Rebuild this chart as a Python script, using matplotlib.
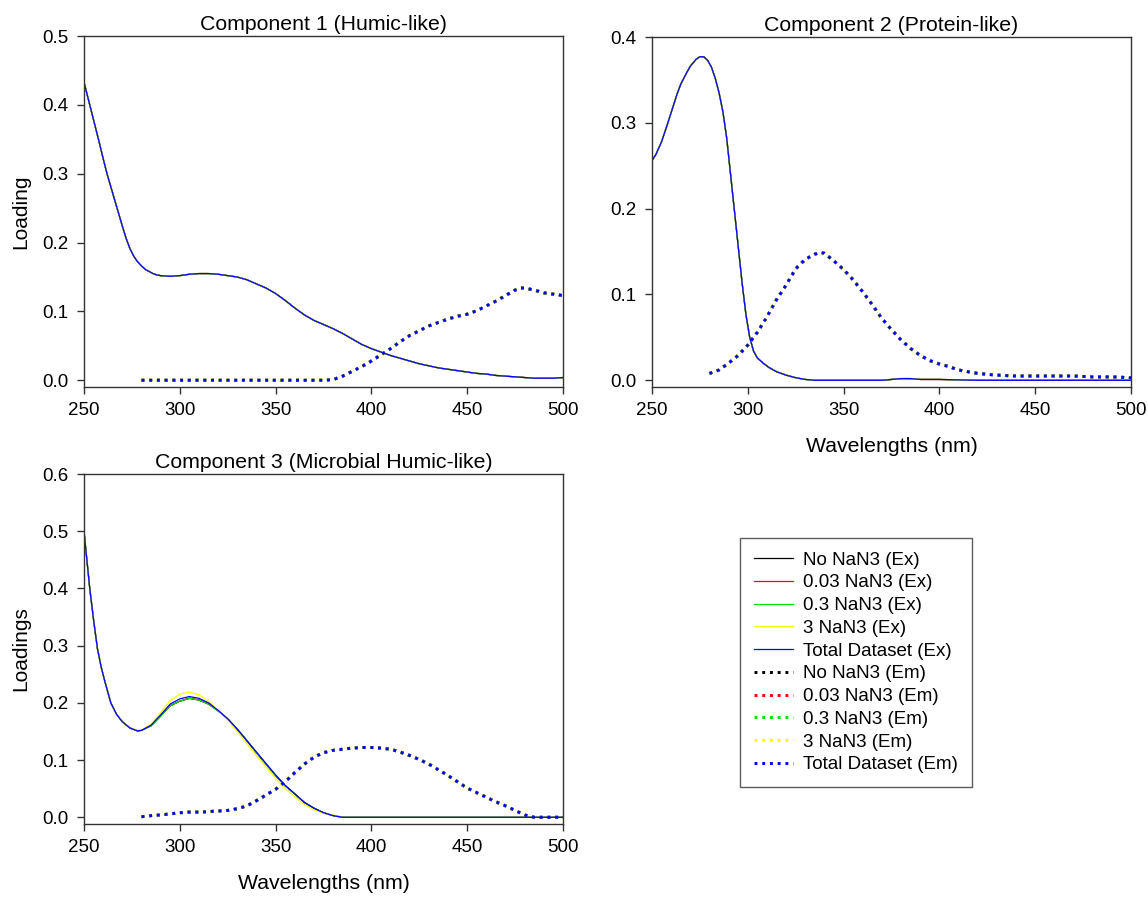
import numpy as np
import matplotlib.pyplot as plt
from matplotlib.lines import Line2D

plt.rcParams['font.family'] = ['Liberation Sans', 'DejaVu Sans']

# series names / colours
series = ['No NaN3', '0.03 NaN3', '0.3 NaN3', '3 NaN3', 'Total Dataset']
colors = ['#000000', '#ff0000', '#00e000', '#ffff00', '#0000ff']

# Component 1 (Humic-like)
c1_ex_wl = [250, 253, 256, 258, 260, 262, 264, 266, 268, 270, 272, 274, 276, 278, 280,
            282, 284, 286, 288, 290, 295, 300, 305, 310, 315, 320, 325, 330, 335, 340,
            345, 350, 355, 360, 365, 370, 375, 380, 385, 390, 395, 400, 405, 410, 415,
            420, 425, 430, 435, 440, 445, 450, 455, 460, 465, 470, 475, 480, 485, 490,
            495, 500]
c1_ex = [0.433, 0.400, 0.367, 0.345, 0.322, 0.300, 0.281, 0.262, 0.243, 0.224, 0.206,
         0.191, 0.180, 0.172, 0.166, 0.161, 0.158, 0.155, 0.153, 0.152, 0.151, 0.152,
         0.154, 0.155, 0.155, 0.154, 0.152, 0.150, 0.146, 0.140, 0.134, 0.126, 0.116,
         0.105, 0.095, 0.087, 0.081, 0.075, 0.068, 0.060, 0.052, 0.046, 0.041, 0.036,
         0.032, 0.028, 0.024, 0.021, 0.018, 0.016, 0.014, 0.012, 0.010, 0.009, 0.007,
         0.006, 0.005, 0.004, 0.003, 0.003, 0.003, 0.004]
c1_em_wl = [280, 285, 290, 295, 300, 305, 310, 315, 320, 325, 330, 335, 340, 345, 350,
            355, 360, 365, 370, 375, 380, 385, 390, 395, 400, 405, 410, 415, 420, 425,
            430, 435, 440, 445, 450, 455, 460, 465, 470, 475, 478, 480, 485, 490, 495, 500]
c1_em = [0.0, 0.0, 0.0, 0.0, 0.0, 0.0, 0.0, 0.0, 0.0, 0.0, 0.0, 0.0, 0.0, 0.0, 0.0,
         0.0, 0.0, 0.0, 0.0, 0.0, 0.001, 0.006, 0.013, 0.020, 0.028, 0.037, 0.046, 0.056,
         0.065, 0.072, 0.079, 0.084, 0.089, 0.093, 0.096, 0.101, 0.108, 0.115, 0.123,
         0.131, 0.134, 0.134, 0.131, 0.127, 0.125, 0.123]

# Component 2 (Protein-like)
c2_ex_wl = [250, 252, 255, 258, 260, 263, 265, 268, 270, 273, 275, 277, 279, 281, 283,
            285, 287, 289, 291, 293, 295, 297, 299, 301, 303, 305, 308, 311, 315, 320,
            325, 330, 335, 340, 350, 360, 370, 375, 380, 385, 390, 400, 420, 450, 500]
c2_ex = [0.256, 0.263, 0.278, 0.298, 0.312, 0.333, 0.345, 0.358, 0.366, 0.374, 0.377,
         0.377, 0.373, 0.365, 0.352, 0.335, 0.313, 0.282, 0.240, 0.198, 0.156, 0.114,
         0.077, 0.050, 0.034, 0.026, 0.020, 0.015, 0.010, 0.006, 0.003, 0.001, 0.0,
         0.0, 0.0, 0.0, 0.0, 0.001, 0.002, 0.002, 0.001, 0.001, 0.0, 0.0, 0.0]
c2_em_wl = [280, 285, 290, 295, 300, 305, 310, 315, 320, 325, 330, 335, 338, 340, 345,
            350, 355, 360, 365, 370, 375, 380, 385, 390, 395, 400, 405, 410, 415, 420,
            430, 440, 450, 460, 470, 480, 490, 500]
c2_em = [0.008, 0.012, 0.020, 0.029, 0.041, 0.056, 0.074, 0.094, 0.111, 0.130, 0.141,
         0.147, 0.149, 0.148, 0.139, 0.129, 0.117, 0.103, 0.088, 0.072, 0.059, 0.047,
         0.037, 0.029, 0.023, 0.019, 0.016, 0.012, 0.010, 0.008, 0.006, 0.005, 0.005,
         0.005, 0.005, 0.004, 0.004, 0.003]

# Component 3 (Microbial Humic-like)
c3_ex_wl = [250, 251.5, 253, 255, 257, 259, 261, 264, 267, 270, 274, 278, 280, 285, 290,
            295, 300, 305, 310, 315, 320, 325, 330, 335, 340, 345, 350, 355, 360, 365,
            370, 375, 380, 385, 400, 450, 500]
c3_ex = [0.500, 0.450, 0.400, 0.345, 0.295, 0.262, 0.236, 0.200, 0.180, 0.167, 0.156,
         0.151, 0.152, 0.160, 0.177, 0.195, 0.203, 0.208, 0.205, 0.198, 0.186, 0.172,
         0.154, 0.134, 0.113, 0.093, 0.073, 0.055, 0.041, 0.026, 0.016, 0.008, 0.003,
         0.0, 0.0, 0.0, 0.0]
c3_ex_total = [0.500, 0.450, 0.400, 0.345, 0.295, 0.262, 0.236, 0.200, 0.180, 0.167,
               0.156, 0.151, 0.152, 0.161, 0.179, 0.198, 0.207, 0.211, 0.208, 0.200,
               0.187, 0.172, 0.154, 0.134, 0.114, 0.094, 0.074, 0.056, 0.041, 0.026,
               0.016, 0.008, 0.003, 0.0, 0.0, 0.0, 0.0]
c3_ex_3nan3 = [0.500, 0.450, 0.400, 0.345, 0.295, 0.262, 0.236, 0.200, 0.180, 0.167,
               0.156, 0.152, 0.153, 0.163, 0.183, 0.204, 0.215, 0.219, 0.214, 0.203,
               0.187, 0.170, 0.150, 0.129, 0.108, 0.088, 0.068, 0.050, 0.036, 0.022,
               0.013, 0.007, 0.004, 0.0, 0.0, 0.0, 0.0]
c3_em_wl = [280, 285, 290, 295, 300, 305, 310, 315, 320, 325, 330, 335, 340, 345, 350,
            355, 360, 365, 370, 375, 380, 385, 390, 395, 400, 405, 410, 415, 420, 425,
            430, 435, 440, 445, 450, 455, 460, 465, 470, 475, 480, 485, 490, 495, 500]
c3_em = [0.001, 0.003, 0.004, 0.006, 0.008, 0.009, 0.009, 0.010, 0.011, 0.012, 0.015,
         0.020, 0.029, 0.039, 0.049, 0.062, 0.078, 0.093, 0.105, 0.113, 0.117, 0.119,
         0.121, 0.122, 0.122, 0.121, 0.119, 0.114, 0.108, 0.101, 0.093, 0.083, 0.073,
         0.062, 0.051, 0.043, 0.035, 0.027, 0.020, 0.012, 0.004, 0.0, 0.0, 0.0, 0.0]

components = [
    ('Component 1 (Humic-like)', c1_ex_wl, [c1_ex] * 5, c1_em_wl, c1_em, 0.5, 'Loading', None),
    ('Component 2 (Protein-like)', c2_ex_wl, [c2_ex] * 5, c2_em_wl, c2_em, 0.4, None, 'Wavelengths (nm)'),
    ('Component 3 (Microbial Humic-like)', c3_ex_wl,
     [c3_ex, c3_ex, c3_ex, c3_ex_3nan3, c3_ex_total], c3_em_wl, c3_em, 0.6,
     'Loadings', 'Wavelengths (nm)'),
]

W, H = 1148, 897
boxes = [(84, 36, 563, 387), (652, 37, 1131, 387), (84, 474, 563, 824)]
dot = (1, 1.65)
dot_lw = 2.1

fig = plt.figure(figsize=(W / 100, H / 100), dpi=100)
for (title, ex_wl, ex_list, em_wl, em, ymax, ylab, xlab), (l, t, r, b) in zip(components, boxes):
    ax = fig.add_axes([l / W, 1 - b / H, (r - l) / W, (b - t) / H])
    for i, (name, col) in enumerate(zip(series, colors)):
        ax.plot(ex_wl, ex_list[i], color=col, lw=0.9)
        ax.plot(em_wl, em, color=col, lw=dot_lw, linestyle=(0, dot))
    ax.set_xlim(250, 500)
    ax.set_ylim(-0.0195 * ymax, ymax)
    ax.set_xticks(np.arange(250, 501, 50))
    ax.set_yticks(np.arange(0, ymax + 0.001, 0.1))
    ax.yaxis.set_major_formatter(plt.FormatStrFormatter('%.1f'))
    ax.tick_params(direction='out', length=5, width=1, labelsize=13.5, pad=6,
                   color='#333333', top=False, right=False)
    for s in ax.spines.values():
        s.set_color('#333333')
        s.set_linewidth(1)
    ax.set_title(title, fontsize=15.3, pad=4)
    if ylab:
        ax.set_ylabel(ylab, fontsize=15, labelpad=9)
    if xlab:
        ax.set_xlabel(xlab, fontsize=15.3, labelpad=13)

leg_handles = [Line2D([], [], color=c, lw=0.9) for c in colors] + \
              [Line2D([], [], color=c, lw=dot_lw, linestyle=(0, dot)) for c in colors]
leg_labels = [f'{n} (Ex)' for n in series] + [f'{n} (Em)' for n in series]
leg = fig.legend(leg_handles, leg_labels, loc='upper left',
                 bbox_to_anchor=(740 / W, 1 - 538 / H), fontsize=13.5,
                 frameon=True, fancybox=False, edgecolor='#333333',
                 handlelength=2.1, handletextpad=0.55, labelspacing=0.3,
                 borderpad=0.72, borderaxespad=0)
leg.get_frame().set_linewidth(1)

fig.savefig('out.png', dpi=100)
